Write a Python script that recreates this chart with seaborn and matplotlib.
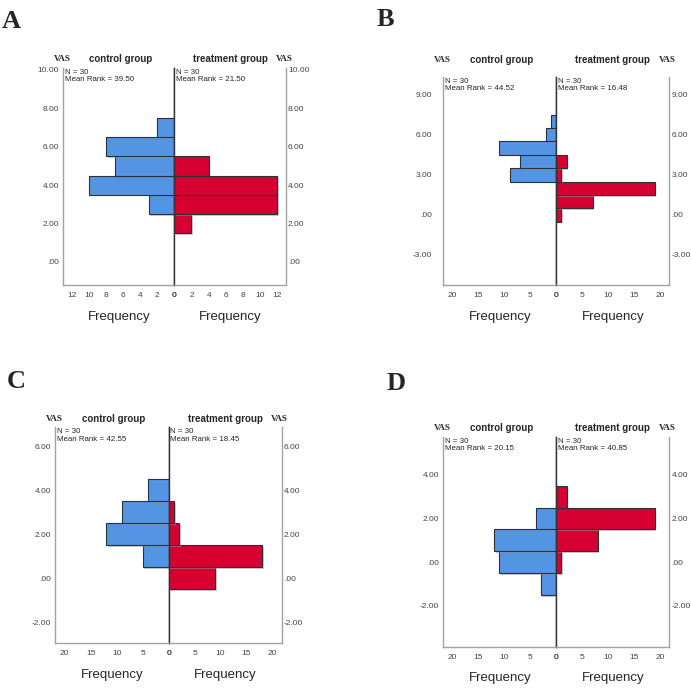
import matplotlib.pyplot as plt
import matplotlib.patheffects as pe
import seaborn as sns
from matplotlib.ticker import FuncFormatter

# VAS score (bin centre) and frequency per group
a_ctrl_vas = [7, 6, 5, 4, 3]
a_ctrl_freq = [2, 8, 7, 10, 3]
a_trt_vas = [5, 4, 3, 2]
a_trt_freq = [4, 12, 12, 2]

b_ctrl_vas = [7, 6, 5, 4, 3]
b_ctrl_freq = [1, 2, 11, 7, 9]
b_trt_vas = [4, 3, 2, 1, 0]
b_trt_freq = [2, 1, 19, 7, 1]

c_ctrl_vas = [4, 3, 2, 1]
c_ctrl_freq = [4, 9, 12, 5]
c_trt_vas = [3, 2, 1, 0]
c_trt_freq = [1, 2, 18, 9]

d_ctrl_vas = [2, 1, 0, -1]
d_ctrl_freq = [4, 12, 11, 3]
d_trt_vas = [3, 2, 1, 0]
d_trt_freq = [2, 19, 8, 1]

mean_rank_ctrl = [39.50, 44.52, 42.55, 20.15]
mean_rank_trt = [21.50, 16.48, 18.45, 40.85]
n_per_group = 30

W, H = 691, 693
sns.set_style("white")
plt.rcParams['font.family'] = ['Liberation Sans', 'DejaVu Sans']

BLUE = "#5495e3"
RED = "#d5002f"
EDGE = "#28313c"
FRAME = "#a3a3a3"
MID = "#333333"
TICKC = "#444444"

fig = plt.figure(figsize=(W / 100, H / 100), dpi=100)


def px(x, y):
    return x / W, 1 - y / H


def vas_fmt(v, pos):
    s = f"{v:.2f}"
    return s[1:] if s.startswith("0") else s   # SPSS style ".00"


def draw_panel(letter, letter_xy, box, ylim, yticks, xmax, xticks,
               ctrl, trt, ranks, title_y, left_pad=3):
    x0, xc, x1, ytop, ybot = box
    halves = [(x0, xc, ctrl, BLUE, ranks[0]), (xc, x1, trt, RED, ranks[1])]
    for i, (l, r, (vas, freq), color, rank) in enumerate(halves):
        fl, fb = px(l, ybot)
        ax = fig.add_axes([fl, fb, (r - l) / W, (ybot - ytop) / H])
        sns.histplot(y=vas, weights=freq, discrete=True, ax=ax, color=color,
                     edgecolor=EDGE, linewidth=0.8, alpha=1)
        # soft drop shadow like the SPSS bars
        for p in ax.patches:
            p.set_path_effects([pe.SimplePatchShadow(offset=(1.2, -1.2),
                                                     shadow_rgbFace='#9a9a9a',
                                                     alpha=0.5),
                                pe.Normal()])
        ax.set_ylim(*ylim)
        ax.set_yticks(yticks)
        ax.yaxis.set_major_formatter(FuncFormatter(vas_fmt))
        ax.set_xticks(xticks)
        ax.tick_params(length=0, labelsize=6, labelcolor=TICKC)
        ax.tick_params(axis='x', pad=5)
        if i == 0:
            ax.set_xlim(xmax, 0)
            ax.spines['right'].set_color(MID)
            ax.spines['left'].set_color(FRAME)
            ax.tick_params(axis='y', pad=left_pad)
        else:
            ax.set_xlim(0, xmax)
            ax.yaxis.tick_right()
            ax.spines['left'].set_color(MID)
            ax.spines['right'].set_color(FRAME)
            ax.tick_params(axis='y', pad=1.5)
        ax.spines['top'].set_visible(False)
        ax.spines['bottom'].set_color(FRAME)
        for s in ['left', 'right', 'bottom']:
            ax.spines[s].set_linewidth(1.0)
        ax.set_ylabel("")
        ax.set_xlabel("Frequency", fontsize=9.5, labelpad=8.5)
        ax.text(0.012, 0.995, f"N = {n_per_group}\nMean Rank = {rank:.2f}",
                transform=ax.transAxes, va='top', ha='left', fontsize=5.7,
                linespacing=1.05)

    # group headers above the frame
    ty = 1 - title_y / H
    fig.text(x0 / W - 0.001, ty, "VAS", ha='center', va='center', fontsize=6.5,
             fontweight='bold', family='Liberation Serif')
    fig.text((x0 + xc) / 2 / W + 0.002, ty, "control group", ha='center',
             va='center', fontsize=7, fontweight='bold')
    fig.text((xc + x1) / 2 / W, ty, "treatment group", ha='center',
             va='center', fontsize=7, fontweight='bold')
    fig.text(x1 / W - 0.003, ty, "VAS", ha='center', va='center', fontsize=6.5,
             fontweight='bold', family='Liberation Serif')
    lx, ly = px(*letter_xy)
    fig.text(lx, ly, letter, ha='left', va='center', fontsize=19,
             fontweight='bold', family='Liberation Serif')


draw_panel("A", (2, 22), (63.3, 174.3, 286, 68, 285), (-1.2, 10.1),
           [0, 2, 4, 6, 8, 10], 13, [0, 2, 4, 6, 8, 10, 12],
           (a_ctrl_vas, a_ctrl_freq), (a_trt_vas, a_trt_freq),
           (mean_rank_ctrl[0], mean_rank_trt[0]), 59)

draw_panel("B", (377, 20), (443.3, 556.3, 669.3, 77, 285), (-5.25, 10.33),
           [-3, 0, 3, 6, 9], 21.8, [0, 5, 10, 15, 20],
           (b_ctrl_vas, b_ctrl_freq), (b_trt_vas, b_trt_freq),
           (mean_rank_ctrl[1], mean_rank_trt[1]), 60, left_pad=8)

draw_panel("C", (7, 382), (55.3, 168.7, 281.7, 427.3, 643.3), (-2.95, 6.85),
           [-2, 0, 2, 4, 6], 21.8, [0, 5, 10, 15, 20],
           (c_ctrl_vas, c_ctrl_freq), (c_trt_vas, c_trt_freq),
           (mean_rank_ctrl[2], mean_rank_trt[2]), 419)

draw_panel("D", (387, 384), (443.3, 556.3, 669.3, 436.7, 646.7), (-3.87, 5.75),
           [-2, 0, 2, 4], 21.8, [0, 5, 10, 15, 20],
           (d_ctrl_vas, d_ctrl_freq), (d_trt_vas, d_trt_freq),
           (mean_rank_ctrl[3], mean_rank_trt[3]), 428)

fig.savefig("out.png", dpi=100, facecolor="white")
